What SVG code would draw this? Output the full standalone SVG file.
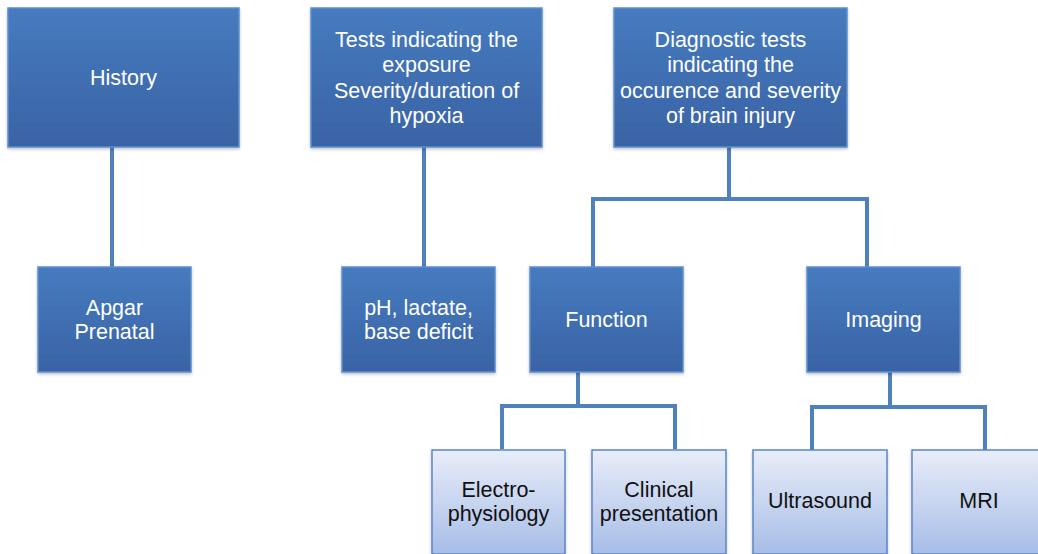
<svg xmlns="http://www.w3.org/2000/svg" width="1038" height="554" viewBox="0 0 1038 554">
  <defs>
    <linearGradient id="darkFill" x1="0" y1="0" x2="0" y2="1">
      <stop offset="0" stop-color="#467bbf"/>
      <stop offset="1" stop-color="#3963a5"/>
    </linearGradient>
    <linearGradient id="lightFill" x1="0" y1="0" x2="0" y2="1">
      <stop offset="0" stop-color="#e8edf9"/>
      <stop offset="1" stop-color="#a7bde6"/>
    </linearGradient>
    <filter id="shadow" x="-5%" y="-5%" width="110%" height="115%">
      <feDropShadow dx="0" dy="1.5" stdDeviation="1.5" flood-color="#000" flood-opacity="0.25"/>
    </filter>
  </defs>
  <style>
    .dark { fill: url(#darkFill); stroke: #5d8fd0; stroke-width: 1.5; filter: url(#shadow); }
    .light { fill: url(#lightFill); stroke: #5b86c6; stroke-width: 1.5; filter: url(#shadow); }
    .t { font-family: "Liberation Sans", Arial, sans-serif; font-size: 21.5px; text-anchor: middle; }
    .tw { fill: #ffffff; }
    .tb { fill: #111111; }
    .conn { fill: none; stroke: #4f81bd; stroke-width: 4; }
  </style>

  <rect width="1038" height="554" fill="#ffffff"/>

  <!-- tree connectors -->
  <g id="connectors" class="conn">
    <path d="M112 147 V267"/>
    <path d="M424 147 V267"/>
    <path d="M729 147 V199 M593 267 V199 H867 V267"/>
    <path d="M578 372 V406 M502 449 V406 H675 V449"/>
    <path d="M890 372 V407 M812 450 V407 H985 V450"/>
  </g>

  <g id="history">
    <rect class="dark" x="8" y="8" width="231" height="139"/>
    <text class="t tw" x="123.5" y="85">History</text>
  </g>

  <g id="exposure-tests">
    <rect class="dark" x="311" y="8" width="231" height="139"/>
    <text class="t tw" x="426.5" y="47">Tests indicating the</text>
    <text class="t tw" x="426.5" y="72">exposure</text>
    <text class="t tw" x="426.5" y="98">Severity/duration of</text>
    <text class="t tw" x="426.5" y="123">hypoxia</text>
  </g>

  <g id="diagnostic-tests">
    <rect class="dark" x="614" y="8" width="233" height="139"/>
    <text class="t tw" x="730.5" y="47">Diagnostic tests</text>
    <text class="t tw" x="730.5" y="72">indicating the</text>
    <text class="t tw" x="730.5" y="98">occurence and severity</text>
    <text class="t tw" x="730.5" y="123">of brain injury</text>
  </g>

  <g id="apgar">
    <rect class="dark" x="38" y="267" width="153" height="105"/>
    <text class="t tw" x="114.5" y="315">Apgar</text>
    <text class="t tw" x="114.5" y="339">Prenatal</text>
  </g>

  <g id="blood-gas">
    <rect class="dark" x="342" y="267" width="153" height="105"/>
    <text class="t tw" x="418.5" y="315">pH, lactate,</text>
    <text class="t tw" x="418.5" y="339">base deficit</text>
  </g>

  <g id="function">
    <rect class="dark" x="530" y="267" width="153" height="105"/>
    <text class="t tw" x="606.5" y="327">Function</text>
  </g>

  <g id="imaging">
    <rect class="dark" x="807" y="267" width="153" height="105"/>
    <text class="t tw" x="883.5" y="327">Imaging</text>
  </g>

  <g id="electrophysiology">
    <rect class="light" x="432" y="450" width="133" height="104"/>
    <text class="t tb" x="498.5" y="497">Electro-</text>
    <text class="t tb" x="498.5" y="521">physiology</text>
  </g>

  <g id="clinical">
    <rect class="light" x="592" y="450" width="134" height="104"/>
    <text class="t tb" x="659" y="497">Clinical</text>
    <text class="t tb" x="659" y="521">presentation</text>
  </g>

  <g id="ultrasound">
    <rect class="light" x="753" y="450" width="134" height="104"/>
    <text class="t tb" x="820" y="508">Ultrasound</text>
  </g>

  <g id="mri">
    <rect class="light" x="912" y="450" width="140" height="104"/>
    <text class="t tb" x="979" y="508">MRI</text>
  </g>
</svg>
